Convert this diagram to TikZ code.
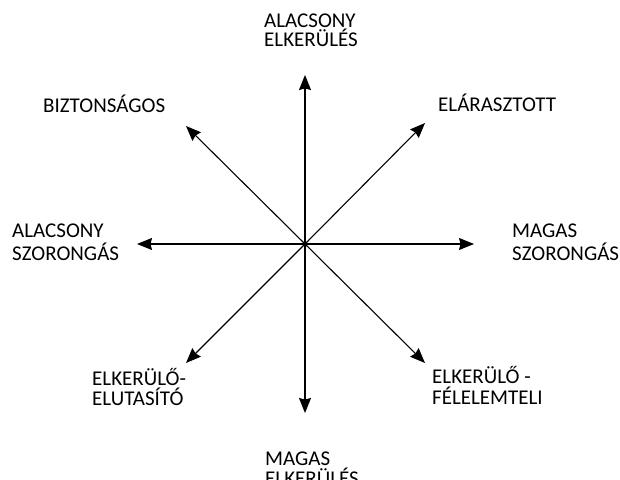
\documentclass[tikz,border=0pt]{standalone}
\usepackage{fontspec}
\setmainfont{Carlito}
\usetikzlibrary{arrows.meta}
\begin{document}
\begin{tikzpicture}[x=1pt,y=1pt,
  axis/.style={line width=1.1pt,-{Stealth[length=15pt,width=12pt,inset=1.5pt]}},
  lbl/.style={anchor=base west,inner sep=0pt,font=\fontsize{21}{21}\selectfont}]
\useasboundingbox (0,0) rectangle (620,479);
\coordinate (c) at (305,235);
\coordinate (up) at (305,404);
\coordinate (dn) at (305,66);
\coordinate (lf) at (137,235);
\coordinate (rt) at (474,235);
\coordinate (ul) at (186,353);
\coordinate (ur) at (425,356);
\coordinate (ll) at (186,116);
\coordinate (lr) at (425,116);
\foreach \t in {up,dn,lf,rt,ul,ur,ll,lr} \draw[axis] (c) -- (\t);
% labels
\node[lbl] (t1) at (264,451) {ALACSONY};
\node[lbl] (t2) at (264,432) {ELKERÜLÉS};
\node[lbl] (b1) at (265,14) {MAGAS};
\node[lbl] (b2) at (265,-6) {ELKERÜLÉS};
\node[lbl] (l1) at (12,241) {ALACSONY};
\node[lbl] (l2) at (12,218) {SZORONGÁS};
\node[lbl] (r1) at (512,241) {MAGAS};
\node[lbl] (r2) at (512,218) {SZORONGÁS};
\node[lbl] (ul1) at (43,366) {BIZTONSÁGOS};
\node[lbl] (ur1) at (438,367) {ELÁRASZTOTT};
\node[lbl] (ll1) at (92,94) {ELKERÜLŐ-};
\node[lbl] (ll2) at (92,74) {ELUTASÍTÓ};
\node[lbl] (lr1) at (432,96) {ELKERÜLŐ -};
\node[lbl] (lr2) at (432,75) {FÉLELEMTELI};
\end{tikzpicture}
\end{document}
